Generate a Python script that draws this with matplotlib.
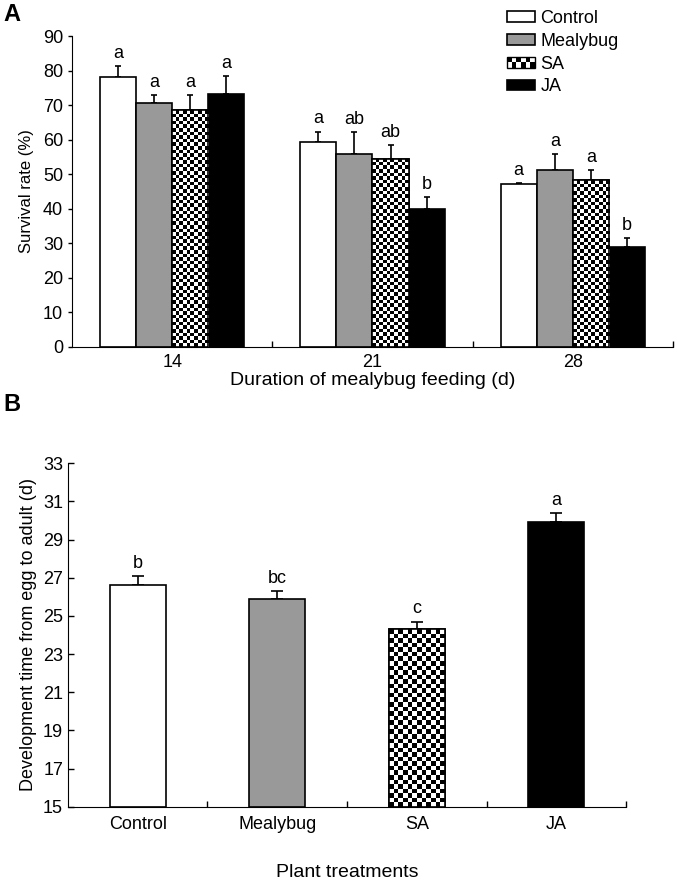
import matplotlib
matplotlib.use("Agg")
import matplotlib.pyplot as plt
import numpy as np
from matplotlib.patches import Rectangle
from matplotlib.legend_handler import HandlerBase

plt.rcParams['font.family'] = ['Liberation Sans', 'DejaVu Sans']

# Panel A: survival rate (%) by duration of feeding
durations = ["14", "21", "28"]
treatments = ["Control", "Mealybug", "SA", "JA"]
survival = {
    "Control": [78.1, 59.4, 47.2],
    "Mealybug": [70.5, 55.9, 51.1],
    "SA": [68.6, 54.5, 48.3],
    "JA": [73.3, 40.0, 29.0],
}
survival_se = {
    "Control": [3.3, 2.9, 0.3],
    "Mealybug": [2.3, 6.3, 4.8],
    "SA": [4.2, 3.8, 2.9],
    "JA": [5.2, 3.3, 2.5],
}
survival_letters = {
    "Control": ["a", "a", "a"],
    "Mealybug": ["a", "ab", "a"],
    "SA": ["a", "ab", "a"],
    "JA": ["a", "b", "b"],
}

# Panel B: development time (d)
dev_time = [26.6, 25.9, 24.3, 29.9]
dev_se = [0.5, 0.4, 0.4, 0.5]
dev_letters = ["b", "bc", "c", "a"]

colors = {"Control": "white", "Mealybug": "#999999", "SA": "white", "JA": "black"}


def add_checker(ax, bar, sq_px):
    """Fill a bar with a black/white checkerboard clipped to it."""
    x0, y0 = bar.get_x(), bar.get_y()
    x1, y1 = x0 + bar.get_width(), y0 + bar.get_height()
    p0 = ax.transData.transform((x0, y0))
    p1 = ax.transData.transform((x1, y1))
    ncol = max(1, int(round(abs(p1[0] - p0[0]) / sq_px)))
    nrow = max(1, int(round(abs(p1[1] - p0[1]) / sq_px)))
    board = np.indices((nrow, ncol)).sum(axis=0) % 2
    im = ax.imshow(board, cmap="gray", extent=(x0, x1, y0, y1), origin="lower",
                   interpolation="nearest", aspect="auto", zorder=bar.get_zorder() + 0.1)
    im.set_clip_path(bar)
    edge = Rectangle((x0, y0), x1 - x0, y1 - y0, facecolor="none", edgecolor="black",
                     linewidth=bar.get_linewidth(), zorder=bar.get_zorder() + 0.2)
    ax.add_patch(edge)


class CheckerHandler(HandlerBase):
    def create_artists(self, legend, orig_handle, xdescent, ydescent, width, height, fontsize, trans):
        artists = []
        ncol, nrow = 6, 2
        w, h = width / ncol, height / nrow
        for i in range(nrow):
            for j in range(ncol):
                c = "black" if (i + j) % 2 else "white"
                artists.append(Rectangle((j * w - xdescent, i * h - ydescent), w, h,
                                         facecolor=c, edgecolor="none", transform=trans))
        artists.append(Rectangle((-xdescent, -ydescent), width, height, facecolor="none",
                                 edgecolor="black", linewidth=1, transform=trans))
        return artists


fig = plt.figure(figsize=(6.77, 8.85), dpi=100)

# ---------- Panel A ----------
axA = fig.add_axes([0.1064, 0.6083, 0.8876, 0.351])
axA.set_xlim(-0.5, 2.5)
axA.set_ylim(0, 90)
x = np.arange(len(durations))
width = 0.18
handles = []
for k, t in enumerate(treatments):
    pos = x + (k - 1.5) * width
    bars = axA.bar(pos, survival[t], width, color=colors[t], edgecolor="black", linewidth=1.2, zorder=2)
    axA.errorbar(pos, survival[t], yerr=[np.zeros(3), survival_se[t]], fmt="none",
                 ecolor="black", elinewidth=1.2, capsize=2.5, capthick=1.2, zorder=1)
    for xi, v, e, lab in zip(pos, survival[t], survival_se[t], survival_letters[t]):
        axA.annotate(lab, (xi, v + e), xytext=(0, 3), textcoords="offset points",
                     ha="center", va="bottom", fontsize=13)
    if t == "SA":
        for b in bars:
            add_checker(axA, b, 3.6)
    handles.append(bars)
axA.set_xlim(-0.5, 2.5)
axA.set_ylim(0, 90)

axA.spines[["top", "right"]].set_visible(False)
axA.set_yticks(np.arange(0, 91, 10))
axA.tick_params(axis="y", direction="out", length=3, labelsize=13, width=1)
axA.set_xticks([0.5, 1.5, 2.5])
axA.set_xticklabels([])
axA.tick_params(axis="x", which="major", direction="in", length=4, width=1)
axA.set_xticks(x, minor=True)
axA.set_xticklabels(durations, minor=True)
axA.tick_params(axis="x", which="minor", length=0, labelsize=13, pad=5)
axA.set_ylabel("Survival rate (%)", fontsize=12, labelpad=6)
axA.set_xlabel("Duration of mealybug feeding (d)", fontsize=14, labelpad=1)

leg = fig.legend(handles, treatments, loc="upper left", bbox_to_anchor=(498 / 677, 1 - 1 / 885),
                 frameon=False, fontsize=13, handlelength=1.55, handleheight=0.55,
                 handletextpad=0.3, labelspacing=0.32, borderpad=0,
                 handler_map={handles[2]: CheckerHandler()})

# ---------- Panel B ----------
axB = fig.add_axes([0.1004, 0.0885, 0.8243, 0.388])
xb = np.arange(len(treatments))
dev_bars = []
for k, t in enumerate(treatments):
    b = axB.bar(xb[k], dev_time[k] - 15, 0.4, bottom=15, color=colors[t], edgecolor="black",
                linewidth=1.2, zorder=2)
    dev_bars.append(b[0])
    axB.errorbar(xb[k], dev_time[k], yerr=[[0], [dev_se[k]]], fmt="none", ecolor="black",
                 elinewidth=1.2, capsize=4, capthick=1.2, zorder=1)
    axB.annotate(dev_letters[k], (xb[k], dev_time[k] + dev_se[k]), xytext=(0, 3),
                 textcoords="offset points", ha="center", va="bottom", fontsize=13)
axB.set_xlim(-0.5, 3.5)
axB.set_ylim(15, 33)
add_checker(axB, dev_bars[2], 4.6)
axB.set_xlim(-0.5, 3.5)
axB.set_ylim(15, 33)

axB.spines[["top", "right"]].set_visible(False)
axB.set_yticks(np.arange(15, 34, 2))
axB.tick_params(axis="y", direction="in", length=4, labelsize=13, width=1)
axB.set_xticks([0.5, 1.5, 2.5, 3.5])
axB.set_xticklabels([])
axB.tick_params(axis="x", which="major", direction="in", length=4, width=1)
axB.set_xticks(xb, minor=True)
axB.set_xticklabels(treatments, minor=True)
axB.tick_params(axis="x", which="minor", length=0, labelsize=13, pad=7)
axB.set_ylabel("Development time from egg to adult (d)", fontsize=13, labelpad=4)
axB.set_xlabel("Plant treatments", fontsize=14, labelpad=22)

fig.text(3 / 677, 1 - 3 / 885, "A", fontsize=17, fontweight="bold", va="top", ha="left")
fig.text(3 / 677, 1 - 393 / 885, "B", fontsize=17, fontweight="bold", va="top", ha="left")

fig.savefig("out.png", dpi=100)
